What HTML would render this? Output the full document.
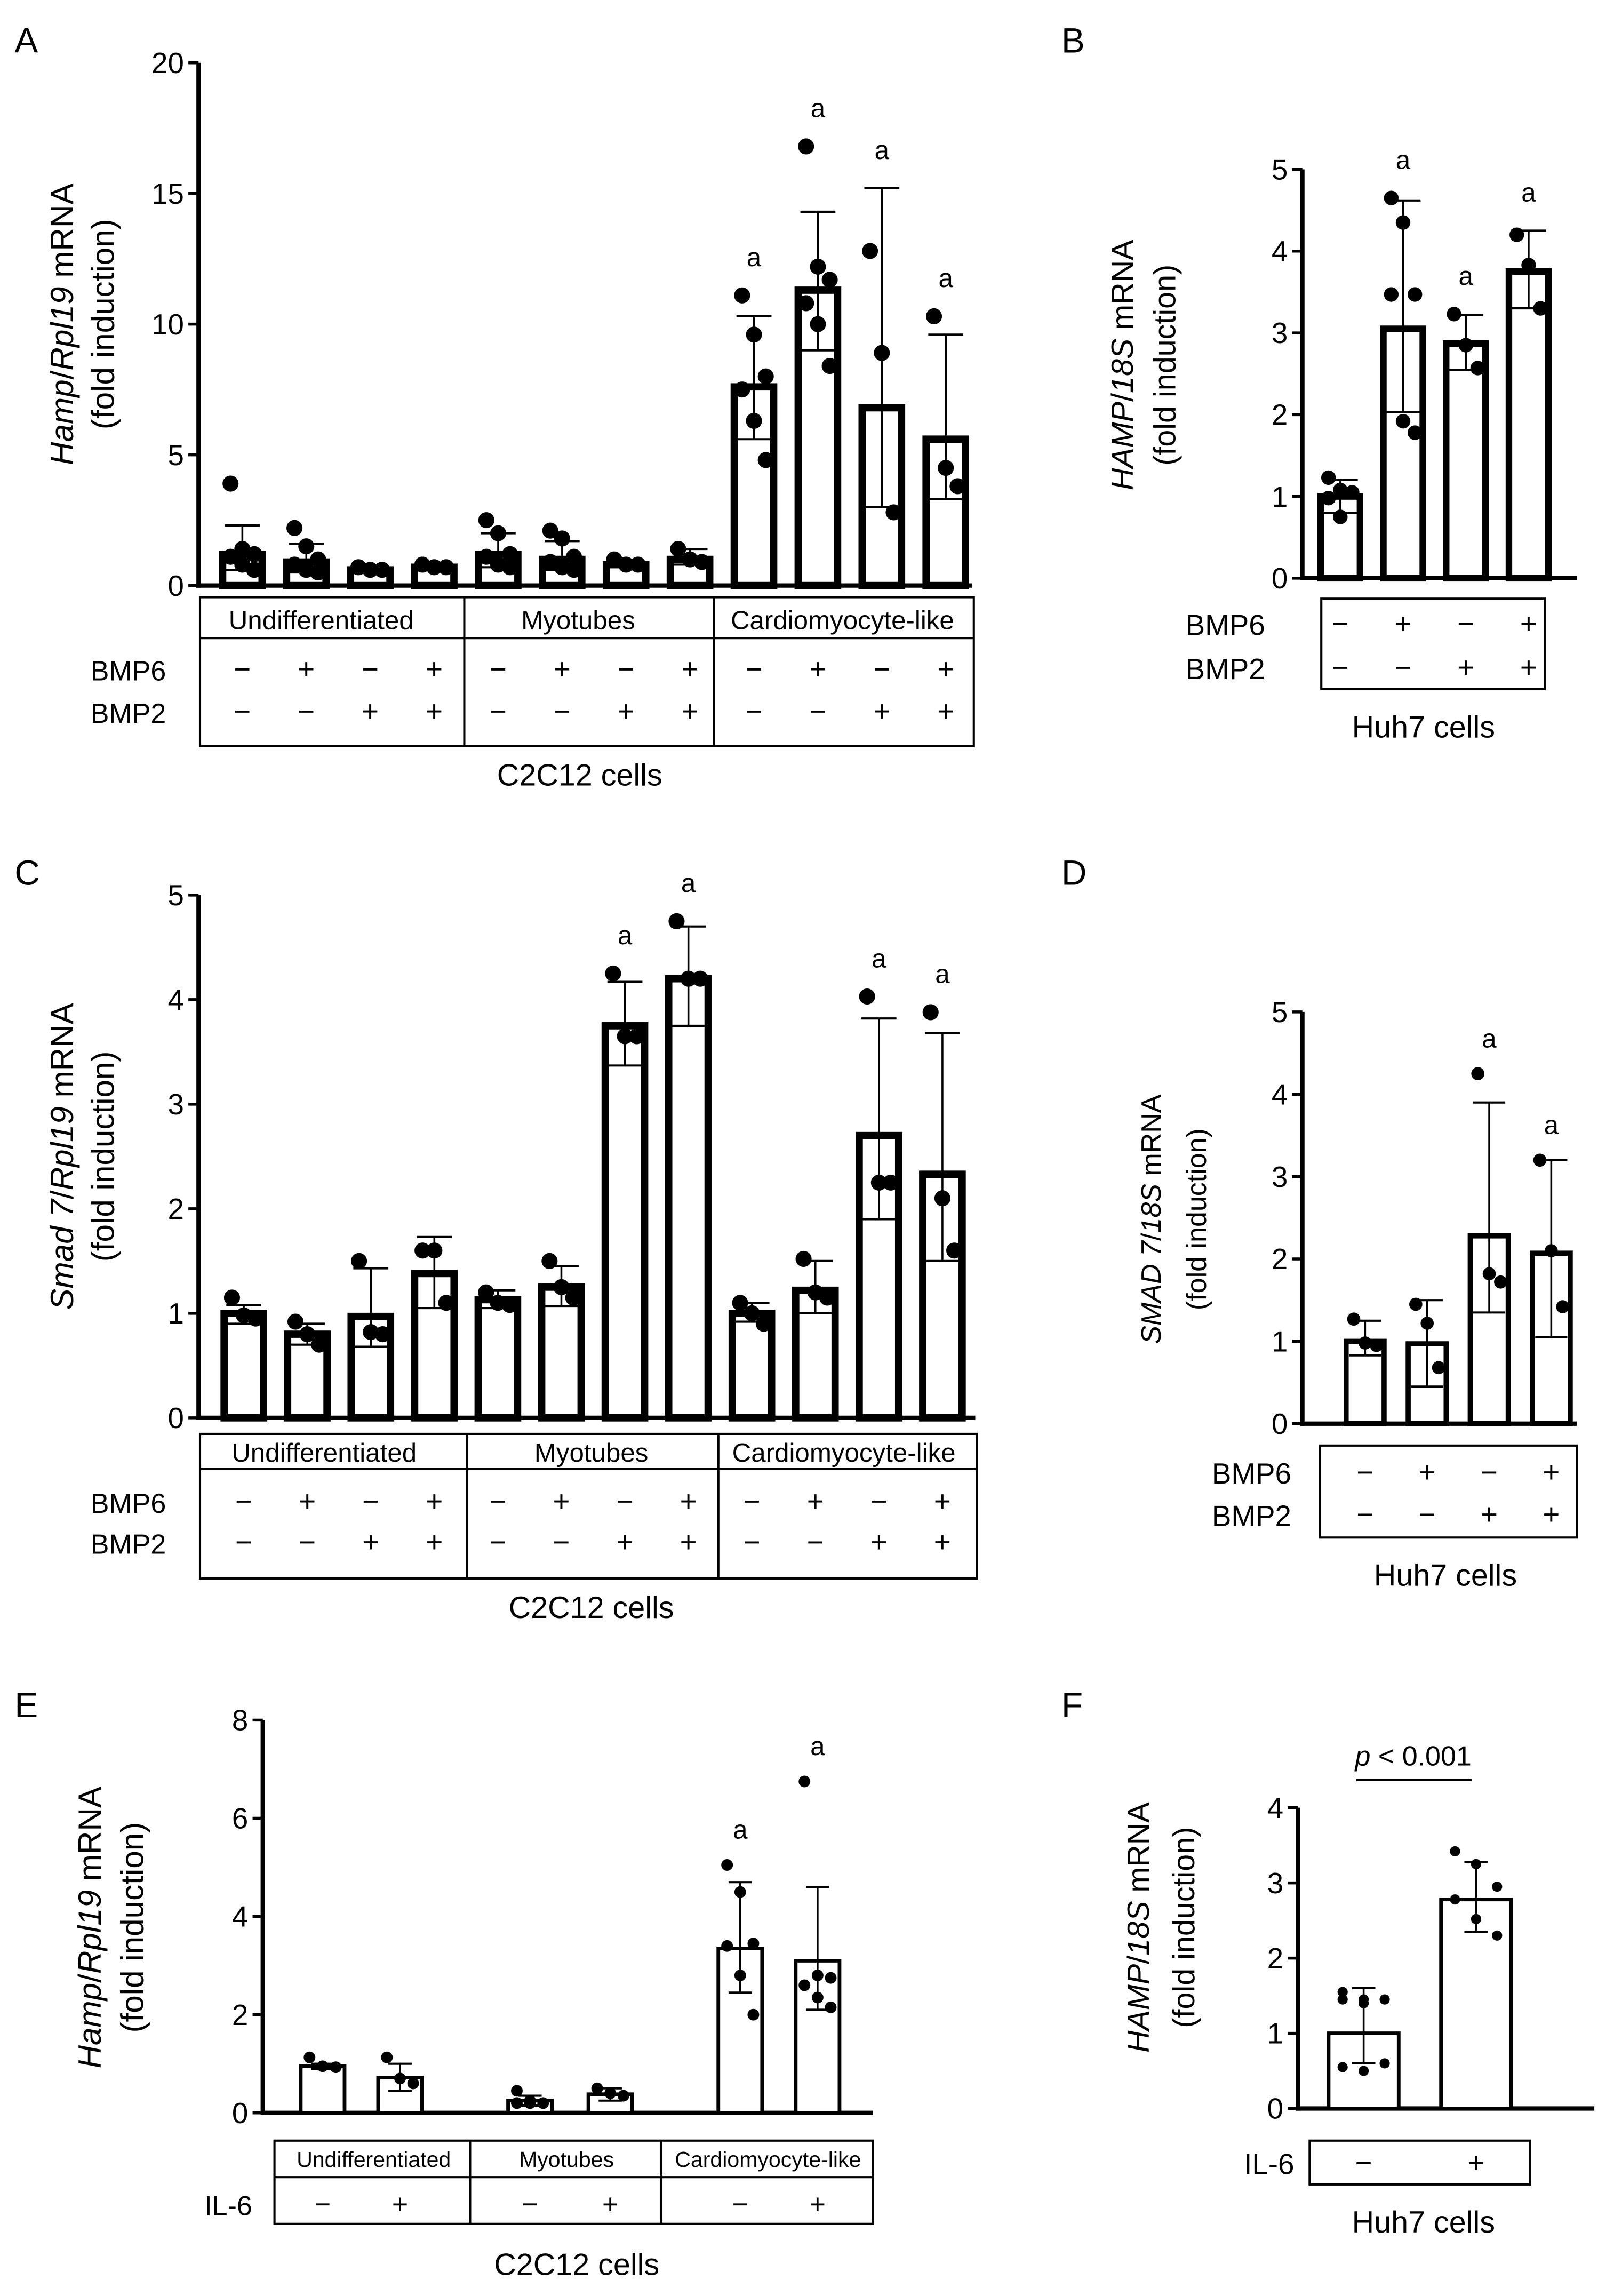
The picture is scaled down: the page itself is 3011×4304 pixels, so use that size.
<!DOCTYPE html>
<html><head><meta charset="utf-8"><style>
html,body{margin:0;padding:0;background:#fff}
svg{display:block}
text{font-family:"Liberation Sans",sans-serif;fill:#000}
</style></head><body>
<svg id="fig" width="3011" height="4304" viewBox="0 0 1100 1572.4" preserveAspectRatio="none" xmlns="http://www.w3.org/2000/svg"></svg>
<script>
// Panel A data
const aCats=["U-","U6","U2","U62","M-","M6","M2","M62","C-","C6","C2","C62"];
const aMeans=[1.2,0.9,0.6,0.7,1.2,1.0,0.8,1.0,7.6,11.3,6.8,5.6];
const aErrHi=[2.3,1.6,0.7,0.8,2.0,1.7,0.9,1.4,10.3,14.3,15.2,9.6];
const aErrLo=[0.6,0.5,0.5,0.6,0.7,0.6,0.7,0.8,5.6,9.0,3.0,3.3];
const aPts=[[3.9,1.4,1.2,1.1,0.8,0.6],[2.2,1.5,1.0,0.8,0.6,0.5],[0.7,0.6,0.6],[0.8,0.7,0.7],[2.5,2.0,1.2,1.1,0.8,0.7],[2.1,1.8,1.1,0.9,0.7,0.6],[1.0,0.8,0.8],[1.4,1.0,0.9],[11.1,9.6,8.0,7.5,6.3,4.8],[16.8,12.2,11.7,10.8,10.0,8.4],[12.8,8.9,2.8],[10.3,4.5,3.8]];
const aSig=[0,0,0,0,0,0,0,0,1,1,1,1];
// Panel B data
const bMeans=[1.0,3.05,2.87,3.75];
const bErrHi=[1.2,4.62,3.22,4.25];
const bErrLo=[0.8,2.03,2.55,3.3];
const bPts=[[1.23,1.08,1.05,0.98,0.75],[4.65,4.35,3.47,3.47,1.92,1.78],[3.23,2.85,2.57],[4.2,3.83,3.3]];
const bSig=[0,1,1,1];
// Panel C data
const cMeans=[1.0,0.8,0.97,1.38,1.13,1.25,3.75,4.2,1.0,1.22,2.7,2.33];
const cErrHi=[1.08,0.9,1.43,1.73,1.22,1.45,4.17,4.7,1.1,1.5,3.82,3.68];
const cErrLo=[0.9,0.7,0.68,1.05,1.05,1.07,3.37,3.75,0.92,1.0,1.9,1.5];
const cPts=[[1.15,0.98,0.95],[0.92,0.8,0.7],[1.5,0.82,0.8],[1.6,1.6,1.1],[1.2,1.1,1.08],[1.5,1.25,1.15],[4.25,3.65,3.65],[4.75,4.2,4.2],[1.1,1.0,0.9],[1.52,1.2,1.15],[4.03,2.25,2.25],[3.88,2.1,1.6]];
const cSig=[0,0,0,0,0,0,1,1,0,0,1,1];
// Panel D data
const dMeans=[1.0,0.97,2.28,2.07];
const dErrHi=[1.25,1.5,3.9,3.2];
const dErrLo=[0.83,0.45,1.35,1.05];
const dPts=[[1.27,0.98,0.95],[1.45,1.22,0.68],[4.25,1.82,1.72],[3.2,2.1,1.42]];
const dSig=[0,0,1,1];
// Panel E data
const eMeans=[0.95,0.72,0.25,0.38,3.35,3.1];
const eErrHi=[1.0,1.0,0.35,0.5,4.7,4.6];
const eErrLo=[0.9,0.45,0.15,0.25,2.45,2.1];
const ePts=[[1.13,0.95,0.93],[1.13,0.7,0.6],[0.45,0.25,0.2,0.2,0.2],[0.5,0.4,0.35],[5.05,4.5,3.45,3.4,2.8,2.0],[6.75,2.8,2.75,2.6,2.35,2.15]];
const eSig=[0,0,0,0,1,1];
// Panel F data
const fMeans=[1.0,2.78];
const fErrHi=[1.6,3.28];
const fErrLo=[0.6,2.35];
const fPts=[[1.55,1.45,1.45,1.45,1.4,0.6,0.55,0.5],[3.42,3.25,2.95,2.78,2.52,2.3]];
const fSig=[0,0];
// Ticks
const aTicks=[0,5,10,15,20];
const bTicks=[0,1,2,3,4,5];
const eTicks=[0,2,4,6,8];
const fTicks=[0,1,2,3,4];

const svg=document.getElementById('fig');
const NS="http://www.w3.org/2000/svg";
function mk(tag,at,parent,txt){const e=document.createElementNS(NS,tag);for(const k in at)e.setAttribute(k,at[k]);if(txt!==undefined)e.textContent=txt;(parent||svg).appendChild(e);return e;}

function panel(o){
  const g=mk('g',{});
  
  
  const y=v=>o.y0-(v-o.tmin)/(o.tmax-o.tmin)*(o.y0-o.y1);
  const x=i=>(o.xs?o.xs[i]:o.cx0+i*o.step);
  const ax=mk('line',{x1:o.ax,y1:o.y1,x2:o.ax,y2:o.y0+o.sw/2,stroke:'#000','stroke-width':o.sw},g);
  
  
  const xa=mk('line',{x1:o.ax-o.sw/2,y1:o.y0,x2:o.xend,y2:o.y0,stroke:'#000','stroke-width':o.sw},g);
  
  
  o.ticks.forEach(t=>{
    mk('line',{x1:o.ax-7,y1:y(t),x2:o.ax,y2:y(t),stroke:'#000','stroke-width':2},g);
    const tl=mk('text',{x:o.ax-10,y:y(t)+7,'text-anchor':'end','font-size':o.tfs},g,String(t));
    
    
  });
  o.means.forEach((m,i)=>{
    const cx=x(i);
    const top=y(m);
    const bar=mk('rect',{x:cx-o.bw/2,y:top,width:o.bw,height:o.y0-top,fill:'#fff',stroke:'#000','stroke-width':o.bsw},g);
    
    
    const hi=y(o.hi[i]),lo=y(o.lo[i]);
    mk('line',{x1:cx,y1:hi,x2:cx,y2:lo,stroke:'#000','stroke-width':1.3},g);
    mk('line',{x1:cx-o.cap,y1:hi,x2:cx+o.cap,y2:hi,stroke:'#000','stroke-width':1.5},g);
    mk('line',{x1:cx-o.cap,y1:lo,x2:cx+o.cap,y2:lo,stroke:'#000','stroke-width':1.5},g);
    const pts=o.pts[i];
    pts.forEach((p,j)=>{
      const off=(pts.length>1)?((j%3)-1)*o.bw*0.3:0;
      const d=mk('circle',{cx:cx+off,cy:y(p),r:o.r,fill:'#000'},g);
      
      
    });
    if(o.sig[i]){
      const mx=Math.max(o.hi[i],...pts);
      const s=mk('text',{x:cx,y:y(mx)-o.sigOff,'text-anchor':'middle','font-size':o.tfs-2},g,'a');
      
      
    }
  });
  const tt=mk('text',{transform:`translate(${o.tx1},${o.ty}) rotate(-90)`,'text-anchor':'middle','font-size':o.yfs},g);
  
  
  mk('tspan',{'font-style':'italic'},tt,o.gene);
  mk('tspan',{},tt,'/');
  mk('tspan',{'font-style':'italic'},tt,o.ref);
  mk('tspan',{},tt,' mRNA');
  const t2=mk('text',{transform:`translate(${o.tx2},${o.ty}) rotate(-90)`,'text-anchor':'middle','font-size':o.yfs},g,'(fold induction)');
  
  
  return {g,x,y};
}
function label(t,x,y,fs,name,anchor,extra){const e=mk('text',Object.assign({x:x,y:y,'font-size':fs,'text-anchor':anchor||'middle'},extra||{}),svg,t);return e;}
function box(x1,y1,x2,y2,name){const r=mk('rect',{x:x1,y:y1,width:x2-x1,height:y2-y1,fill:'none',stroke:'#000','stroke-width':1.5});return r;}
function ln(x1,y1,x2,y2,w){mk('line',{x1,y1,x2,y2,stroke:'#000','stroke-width':w||1.5});}
const B6=['−','+','−','+'],B2=['−','−','+','+'];

[['A',10,36],['B',727,36],['C',10,606],['D',727,606],['E',10,1176],['F',727,1176]].forEach(l=>label(l[0],l[1],l[2],24,'panel-letter-'+l[0].toLowerCase(),'start'));

// Panel A
const A=panel({name:'panel-a',ax:136,y0:401,y1:43,tmin:0,tmax:20,ticks:aTicks,xend:666,cx0:166,step:43.8,bw:27,bsw:5,sw:3,cap:12,r:5.5,sigOff:20,tfs:20,yfs:22,means:aMeans,hi:aErrHi,lo:aErrLo,pts:aPts,sig:aSig,gene:'Hamp',ref:'Rpl19',tx1:50,tx2:78,ty:222});
box(137,409,667,511,'group-table-a');ln(137,437,667,437);ln(318,409,318,511);ln(489,409,489,511);
label('Undifferentiated',220,431,18,'group-label');label('Myotubes',396,431,18,'group-label');label('Cardiomyocyte-like',577,431,18,'group-label');
label('BMP6',62,466,19,'row-label','start');label('BMP2',62,495,19,'row-label','start');
aMeans.forEach((m,i)=>{label(B6[i%4],A.x(i),465,20,'bmp6-sign');label(B2[i%4],A.x(i),494,20,'bmp2-sign');});
label('C2C12 cells',397,538,21,'x-axis-title');

// Panel B
const Bp=panel({name:'panel-b',ax:892,y0:396,y1:116,tmin:0,tmax:5,ticks:bTicks,xend:1080,cx0:918,step:43,bw:27,bsw:4.5,sw:3,cap:12,r:5,sigOff:20,tfs:20,yfs:21,means:bMeans,hi:bErrHi,lo:bErrLo,pts:bPts,sig:bSig,gene:'HAMP',ref:'18S',tx1:776,tx2:805,ty:250});
box(905,410,1058,472,'treatment-table-b');
label('BMP6',812,435,20,'row-label','start');label('BMP2',812,465,20,'row-label','start');
bMeans.forEach((m,i)=>{label(B6[i],Bp.x(i),434,20,'bmp6-sign');label(B2[i],Bp.x(i),464,20,'bmp2-sign');});
label('Huh7 cells',975,505,21,'x-axis-title');

// Panel C
const C=panel({name:'panel-c',ax:136,y0:971,y1:613,tmin:0,tmax:5,ticks:bTicks,xend:668,cx0:167,step:43.5,bw:27,bsw:5,sw:3,cap:12,r:5.5,sigOff:20,tfs:20,yfs:22,means:cMeans,hi:cErrHi,lo:cErrLo,pts:cPts,sig:cSig,gene:'Smad 7',ref:'Rpl19',tx1:50,tx2:78,ty:792});
box(137,982,669,1081,'group-table-c');ln(137,1006,669,1006);ln(320,982,320,1081);ln(492,982,492,1081);
label('Undifferentiated',222,1001,18,'group-label');label('Myotubes',405,1001,18,'group-label');label('Cardiomyocyte-like',578,1001,18,'group-label');
label('BMP6',62,1036,19,'row-label','start');label('BMP2',62,1064,19,'row-label','start');
cMeans.forEach((m,i)=>{label(B6[i%4],C.x(i),1035,20,'bmp6-sign');label(B2[i%4],C.x(i),1063,20,'bmp2-sign');});
label('C2C12 cells',405,1108,21,'x-axis-title');

// Panel D
const D=panel({name:'panel-d',ax:892,y0:975,y1:693,tmin:0,tmax:5,ticks:bTicks,xend:1080,cx0:935,step:42.5,bw:26,bsw:3.5,sw:3,cap:11,r:4.5,sigOff:18,tfs:20,yfs:19,means:dMeans,hi:dErrHi,lo:dErrLo,pts:dPts,sig:dSig,gene:'SMAD 7',ref:'18S',tx1:795,tx2:826,ty:835});
box(904,990,1080,1053,'treatment-table-d');
label('BMP6',830,1016,20,'row-label','start');label('BMP2',830,1045,20,'row-label','start');
dMeans.forEach((m,i)=>{label(B6[i],D.x(i),1015,20,'bmp6-sign');label(B2[i],D.x(i),1044,20,'bmp2-sign');});
label('Huh7 cells',990,1086,21,'x-axis-title');

// Panel E (explicit category positions due to group gaps)
const eX=[221,274,363,418,507,560];
const E=panel({name:'panel-e',ax:180,y0:1447,y1:1178,tmin:0,tmax:8,ticks:eTicks,xend:598,xs:eX,bw:30,bsw:2.5,sw:3,cap:8,r:4,sigOff:18,tfs:20,yfs:22,means:eMeans,hi:eErrHi,lo:eErrLo,pts:ePts,sig:eSig,gene:'Hamp',ref:'Rpl19',tx1:69,tx2:98,ty:1320});
box(188,1466,598,1523,'group-table-e');ln(188,1491,598,1491);ln(322,1466,322,1523);ln(453,1466,453,1523);
label('Undifferentiated',256,1484,15,'group-label');label('Myotubes',388,1484,15,'group-label');label('Cardiomyocyte-like',526,1484,15,'group-label');
label('IL-6',140,1517,19,'row-label','start');
eX.forEach((xx,i)=>label(i%2?'+':'−',xx,1516,19,'il6-sign'));
label('C2C12 cells',395,1558,21,'x-axis-title');

// Panel F
const F=panel({name:'panel-f',ax:889,y0:1444,y1:1238,tmin:0,tmax:4,ticks:fTicks,xend:1092,cx0:934,step:77,bw:48,bsw:2.5,sw:3,cap:8,r:3.5,sigOff:18,tfs:20,yfs:21,means:fMeans,hi:fErrHi,lo:fErrLo,pts:fPts,sig:fSig,gene:'HAMP',ref:'18S',tx1:787,tx2:818,ty:1320});
box(897,1466,1048,1496,'treatment-table-f');
label('IL-6',852,1489,20,'row-label','start');
label('−',934,1488,20,'il6-sign');label('+',1011,1488,20,'il6-sign');
label('Huh7 cells',975,1529,21,'x-axis-title');
const pl=label('',968,1209,19,'p-value-label');
mk('tspan',{'font-style':'italic'},pl,'p');mk('tspan',{},pl,' < 0.001');
ln(929,1219,1008,1219,1.5);
</script>
</body></html>
